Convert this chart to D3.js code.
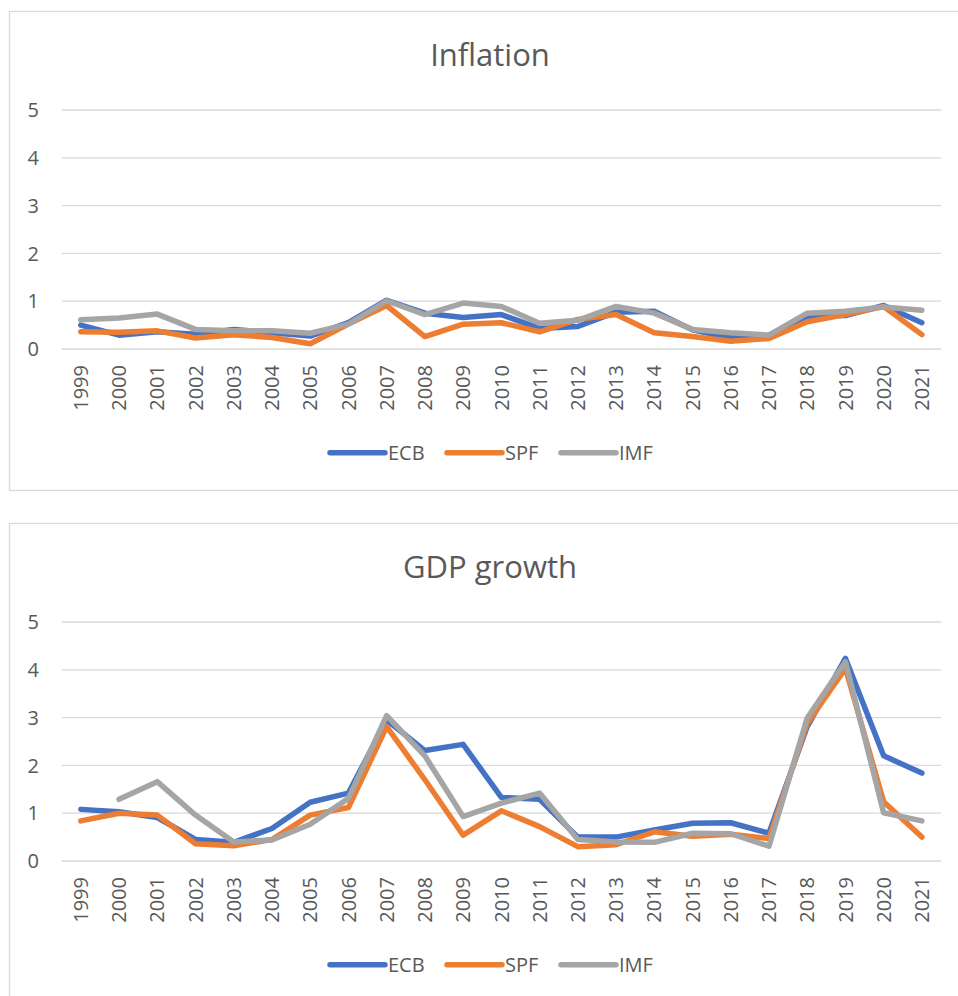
<!DOCTYPE html>
<html>
<head>
<meta charset="utf-8">
<script src="https://cdn.jsdelivr.net/npm/d3@7"></script>
<style>
  body { margin: 0; background: #fff; }
  text { font-family: "Open Sans", sans-serif; fill: #595959; }
  .grid line { stroke: #d9d9d9; stroke-width: 1.3; }
  .series { fill: none; stroke-width: 5.5; stroke-linejoin: round; stroke-linecap: round; }
</style>
</head>
<body>
<div id="chart"></div>
<script>
// categories
const years = ["1999","2000","2001","2002","2003","2004","2005","2006","2007","2008","2009","2010",
               "2011","2012","2013","2014","2015","2016","2017","2018","2019","2020","2021"];
const yTicks = [0, 1, 2, 3, 4, 5];
const seriesNames = ["ECB", "SPF", "IMF"];
const seriesColors = ["#4472c4", "#ed7d31", "#a5a5a5"];

// Inflation
const inflEcb = [0.50,0.29,0.36,0.31,0.41,0.34,0.27,0.55,1.02,0.75,0.66,0.72,0.43,0.47,0.77,0.79,0.40,0.23,0.29,0.68,0.70,0.91,0.55];
const inflSpf = [0.36,0.35,0.38,0.23,0.30,0.24,0.11,0.52,0.91,0.26,0.52,0.55,0.36,0.62,0.72,0.34,0.26,0.16,0.22,0.57,0.72,0.89,0.30];
const inflImf = [0.61,0.65,0.73,0.41,0.38,0.38,0.33,0.52,1.01,0.72,0.96,0.89,0.54,0.60,0.89,0.75,0.41,0.34,0.29,0.75,0.79,0.88,0.81];

// GDP growth
const gdpEcb = [1.08,1.03,0.91,0.45,0.39,0.68,1.23,1.42,2.95,2.31,2.44,1.33,1.29,0.50,0.50,0.65,0.79,0.80,0.58,2.81,4.24,2.20,1.84];
const gdpSpf = [0.84,1.00,0.96,0.36,0.32,0.45,0.96,1.12,2.81,1.70,0.54,1.05,0.72,0.30,0.34,0.61,0.52,0.56,0.47,2.88,4.03,1.24,0.50];
const gdpImf = [null,1.29,1.66,0.96,0.40,0.44,0.77,1.31,3.04,2.20,0.93,1.21,1.42,0.45,0.40,0.39,0.58,0.57,0.31,2.99,4.17,1.01,0.84];

const W = 958, H = 996;
const svg = d3.select("#chart").append("svg")
    .attr("width", W)
    .attr("height", H);

function drawPanel(top, title, values) {
    const g = svg.append("g").attr("transform", "translate(0," + top + ")");

    // chart area border
    g.append("rect")
        .attr("x", 9.5).attr("y", 11.5)
        .attr("width", 960).attr("height", 479)
        .attr("fill", "#fff")
        .attr("stroke", "#d9d9d9")
        .attr("stroke-width", 1.3);

    const x = d3.scaleBand().domain(years).range([61.7, 941]);
    const y = d3.scaleLinear().domain([0, 5]).range([349, 110]);

    // gridlines
    g.append("g").attr("class", "grid")
        .selectAll("line")
        .data(yTicks)
        .enter()
        .append("line")
        .attr("x1", 61.7).attr("x2", 941)
        .attr("y1", d => y(d)).attr("y2", d => y(d));

    // y labels
    g.selectAll(".ylab")
        .data(yTicks)
        .enter()
        .append("text")
        .attr("class", "ylab")
        .attr("x", 39)
        .attr("y", d => y(d))
        .attr("dy", "0.36em")
        .attr("text-anchor", "end")
        .style("font-size", "20px")
        .text(d => d);

    // year labels, rotated
    g.selectAll(".xlab")
        .data(years)
        .enter()
        .append("text")
        .attr("class", "xlab")
        .attr("transform", d => "translate(" + (x(d) + x.bandwidth() / 2) + "," + (y(0) + 16) + ") rotate(-90)")
        .attr("dy", "0.36em")
        .attr("text-anchor", "end")
        .style("font-size", "20px")
        .text(d => d);

    // lines
    const line = d3.line()
        .defined(d => d.v !== null)
        .x(d => x(d.year) + x.bandwidth() / 2)
        .y(d => y(d.v));

    values.forEach((vals, i) => {
        g.append("path")
            .datum(years.map((yr, j) => ({year: yr, v: vals[j]})))
            .attr("class", "series")
            .attr("stroke", seriesColors[i])
            .attr("d", line);
    });

    // title
    g.append("text")
        .attr("x", 490)
        .attr("y", 66)
        .attr("text-anchor", "middle")
        .style("font-size", "31px")
        .text(title);

    // legend
    const legX = [330, 447, 561];
    const leg = g.selectAll(".leg")
        .data(seriesNames)
        .enter()
        .append("g")
        .attr("class", "leg")
        .attr("transform", (d, i) => "translate(" + legX[i] + ",452.7)");
    leg.append("line")
        .attr("x1", 0).attr("x2", 55)
        .attr("stroke", (d, i) => seriesColors[i])
        .attr("stroke-width", 5.5)
        .attr("stroke-linecap", "round");
    leg.append("text")
        .attr("x", 58)
        .attr("dy", "0.36em")
        .style("font-size", "20px")
        .text(d => d);
}

drawPanel(0, "Inflation", [inflEcb, inflSpf, inflImf]);
drawPanel(512, "GDP growth", [gdpEcb, gdpSpf, gdpImf]);
</script>
</body>
</html>
